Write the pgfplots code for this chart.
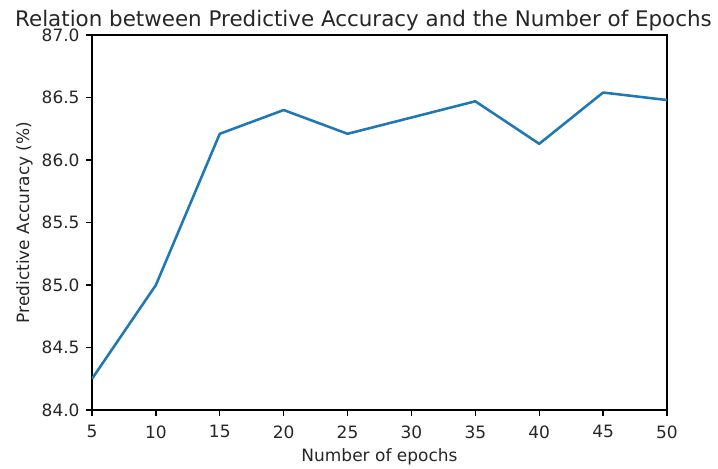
\documentclass[border=0pt]{standalone}
\usepackage{fontspec}
\setmainfont{DejaVu Sans}
\usepackage{pgfplots}
\pgfplotsset{compat=1.18}
\definecolor{mplblue}{HTML}{1F77B4}
\begin{document}
\begin{tikzpicture}
\path[use as bounding box] (-54.1pt,-34.1pt) rectangle (368.2pt,241.2pt);
\begin{axis}[
  at={(0,0)}, anchor=south west,
  scale only axis,
  width=338.2pt, height=220.6pt,
  xmin=5, xmax=50, ymin=84, ymax=87,
  xtick={5,10,...,50},
  ytick={84,84.5,85,85.5,86,86.5,87},
  yticklabel style={/pgf/number format/fixed, /pgf/number format/fixed zerofill, /pgf/number format/precision=1},
  /pgf/number format/assume math mode=true,
  tick align=outside,
  xtick pos=left, ytick pos=left,
  major tick length=3.5pt,
  every tick/.style={black, line width=0.8pt},
  axis line style={line width=0.8pt},
  tick label style={font=\fontsize{10}{12}\selectfont, inner sep=0pt, text=black!85},
  xticklabel shift=5.3pt,
  yticklabel shift=3.6pt,
  title={Relation between Predictive Accuracy and the Number of Epochs},
  title style={at={(axis description cs:0.4722,0.9968)}, anchor=base, font=\fontsize{12.6}{15}\selectfont, inner sep=0pt, text=black!85},
  xlabel={Number of epochs},
  xlabel style={at={(axis description cs:0.5,-0.136)}, anchor=base, font=\fontsize{10}{12}\selectfont, inner sep=0pt, text=black!85},
  ylabel={Predictive Accuracy (\%)},
  ylabel style={at={(axis description cs:-0.1094,0.5)}, anchor=base, font=\fontsize{10}{12}\selectfont, inner sep=0pt, text=black!85},
]
\addplot[mplblue, line width=1.5pt, line join=round] coordinates {
(5,84.25) (10,85.00) (15,86.21) (20,86.40) (25,86.21) (30,86.34) (35,86.47) (40,86.13) (45,86.54) (50,86.48)
};
\end{axis}
\end{tikzpicture}
\end{document}
